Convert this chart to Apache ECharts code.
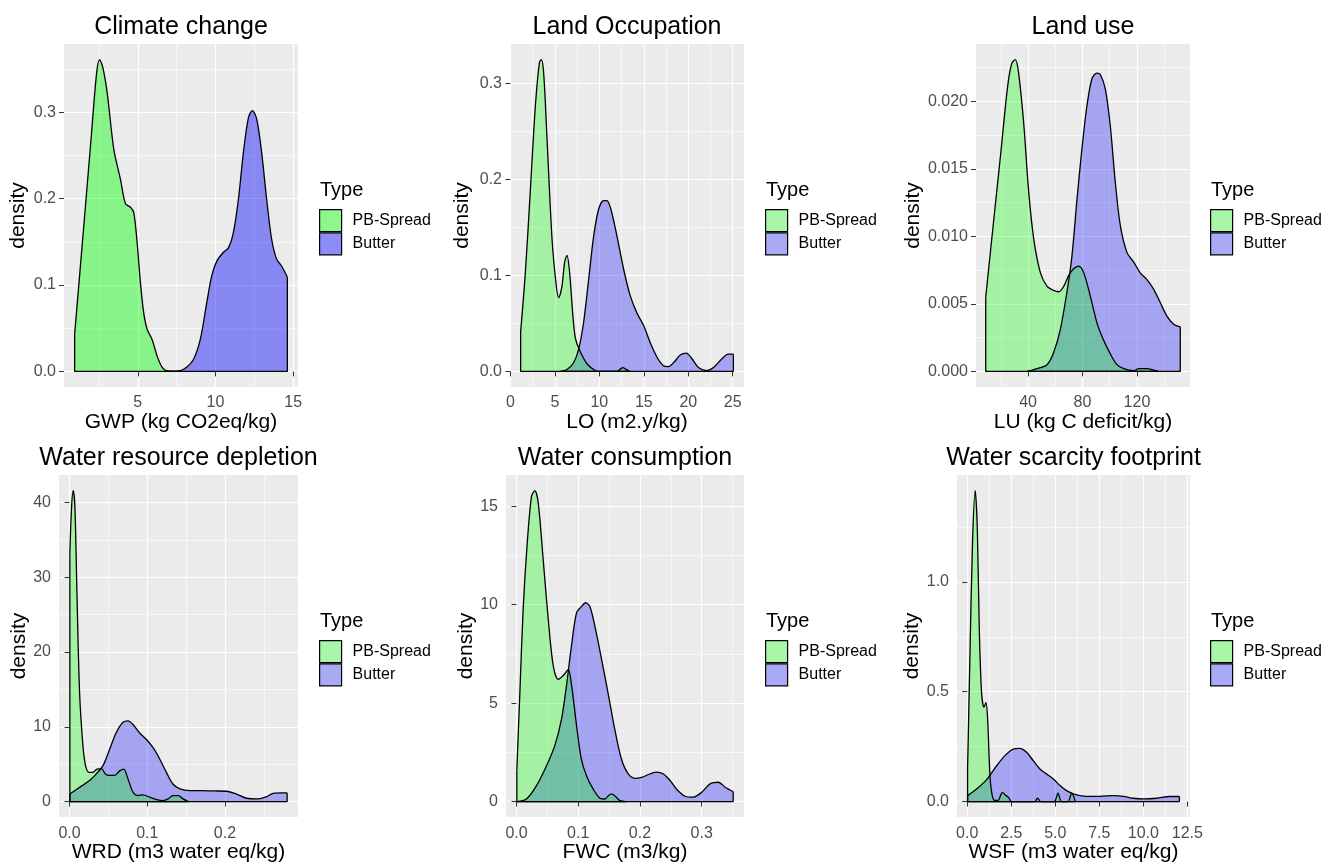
<!DOCTYPE html>
<html><head><meta charset="utf-8">
<script src="https://cdn.jsdelivr.net/npm/echarts@6/dist/echarts.min.js"></script>
<style>html,body{margin:0;padding:0;background:#fff}#c{width:1329px;height:864px}</style>
</head><body><div id="c"></div>
<script>
// ---------------- DATA ----------------
const seriesNames = ['PB-Spread', 'Butter'];
const panelTitles = ['Climate change', 'Land Occupation', 'Land use', 'Water resource depletion', 'Water consumption', 'Water scarcity footprint'];
const xTitles = ['GWP (kg CO2eq/kg)', 'LO (m2.y/kg)', 'LU (kg C deficit/kg)', 'WRD (m3 water eq/kg)', 'FWC (m3/kg)', 'WSF (m3 water eq/kg)'];
const yTitle = 'density';
const legendTitle = 'Type';

// density curves [x, density]
const gwpPB = [[0.94,0.043],[1.54,0.171],[2.0,0.27],[2.35,0.345],[2.54,0.361],[2.75,0.352],[3.03,0.323],[3.46,0.257],[3.89,0.222],[4.21,0.194],[4.53,0.19],[4.74,0.184],[4.96,0.149],[5.17,0.103],[5.38,0.068],[5.6,0.049],[5.92,0.037],[6.24,0.018],[6.56,0.005],[6.88,0.0005],[7.5,0]];
const gwpButter = [[6.88,0],[7.74,0.001],[8.16,0.005],[8.59,0.014],[9.02,0.037],[9.44,0.08],[9.76,0.111],[10.09,0.128],[10.51,0.138],[10.83,0.143],[11.15,0.161],[11.47,0.199],[11.79,0.253],[12.12,0.294],[12.37,0.302],[12.65,0.292],[12.97,0.253],[13.29,0.199],[13.61,0.153],[13.93,0.13],[14.25,0.122],[14.62,0.109]];

const loPB = [[1.15,0.041],[1.68,0.103],[2.25,0.19],[2.81,0.277],[3.26,0.322],[3.48,0.325],[3.74,0.311],[4.12,0.242],[4.68,0.138],[5.16,0.089],[5.43,0.077],[5.8,0.089],[6.1,0.114],[6.36,0.121],[6.66,0.103],[7.0,0.061],[7.3,0.035],[7.78,0.022],[8.61,0.008],[9.54,0.001],[10.1,0],[11.98,0],[12.35,0.0024],[12.65,0.004],[12.95,0.0024],[13.4,0]];
const loButter = [[5.6,0],[6.36,0.002],[7.1,0.009],[7.67,0.023],[8.23,0.051],[8.8,0.096],[9.36,0.141],[9.92,0.169],[10.48,0.178],[10.85,0.178],[11.3,0.169],[11.98,0.141],[12.72,0.107],[13.47,0.079],[14.22,0.061],[14.97,0.048],[15.72,0.03],[16.47,0.015],[17.2,0.006],[17.78,0.005],[18.34,0.009],[19.1,0.017],[19.76,0.019],[20.4,0.0135],[21.15,0.004],[22.08,0.0007],[22.83,0.004],[23.76,0.013],[24.5,0.018],[25.07,0.018]];

const luPB = [[8.93,0.0055],[15,0.0114],[20,0.0162],[25,0.0211],[28,0.0228],[30.7,0.0231],[33.1,0.0221],[36.8,0.0184],[40.5,0.0133],[44.2,0.0098],[49.1,0.0073],[54.0,0.0063],[58.8,0.006],[62.5,0.0059],[66.2,0.0063],[69.8,0.0071],[73.5,0.0076],[77.2,0.0078],[80.9,0.0073],[85.7,0.0056],[90.6,0.0036],[95.5,0.0023],[100.4,0.0013],[105.3,0.0005],[110.2,0.0002],[117.6,0.00005],[121.2,0.0002],[127.3,0.0002],[132.2,0.0001],[135.9,0]];
const luButter = [[39.3,0],[46.6,0.0002],[54,0.0005],[58.8,0.0014],[63.7,0.0031],[68.6,0.0059],[72.3,0.0086],[76.0,0.0128],[79.6,0.0165],[83.3,0.0197],[87.0,0.0217],[90.6,0.0221],[93.1,0.022],[96.8,0.0209],[100.4,0.0182],[104.1,0.014],[107.8,0.0108],[112.7,0.0088],[117.6,0.0081],[122.4,0.0073],[127.3,0.0068],[132.2,0.0061],[137.1,0.0051],[142.0,0.0041],[146.9,0.0035],[151.8,0.0033]];

const wrdPB = [[0.0004,33.2],[0.0026,39.4],[0.0047,41.6],[0.0069,39.4],[0.0095,27.9],[0.0129,14.6],[0.0172,7.5],[0.0206,4.8],[0.025,3.9],[0.03,3.9],[0.0353,4.35],[0.041,4.4],[0.046,3.7],[0.0516,3.5],[0.058,3.5],[0.0645,4.1],[0.0697,4.35],[0.0753,3.0],[0.0817,1.24],[0.088,0.8],[0.0946,0.9],[0.103,0.58],[0.112,0.27],[0.12,0.13],[0.127,0.36],[0.133,0.8],[0.14,0.8],[0.146,0.36],[0.153,0]];
const wrdButter = [[0.0004,1.0],[0.0129,1.9],[0.0258,2.8],[0.0344,3.7],[0.043,4.8],[0.0516,7.0],[0.06,9.2],[0.0688,10.6],[0.0753,10.8],[0.0817,10.3],[0.09,9.2],[0.099,8.3],[0.1075,7.2],[0.116,5.7],[0.1247,3.9],[0.133,2.35],[0.142,1.7],[0.155,1.47],[0.168,1.47],[0.185,1.42],[0.202,1.38],[0.215,1.0],[0.228,0.44],[0.241,0.36],[0.254,0.67],[0.262,1.1],[0.273,1.15],[0.28,1.15]];

const fwcPB = [[0.0005,1.57],[0.0054,5.5],[0.0108,9.8],[0.0173,13.1],[0.0243,15.5],[0.0297,15.8],[0.0351,15.2],[0.0432,12.3],[0.0514,9.26],[0.0595,6.9],[0.0676,6.2],[0.0757,6.4],[0.0838,6.7],[0.0892,5.9],[0.0973,3.85],[0.105,2.16],[0.1135,1.3],[0.124,0.64],[0.135,0.17],[0.143,0.13],[0.149,0.3],[0.154,0.39],[0.159,0.3],[0.1676,0.05],[0.178,0]];
const fwcButter = [[0.0005,0],[0.016,0.13],[0.0324,0.81],[0.0486,1.82],[0.062,2.84],[0.073,4.2],[0.081,5.9],[0.089,7.9],[0.0973,9.6],[0.105,9.9],[0.112,10.1],[0.119,9.9],[0.127,8.9],[0.138,7.2],[0.149,5.4],[0.159,3.7],[0.17,2.16],[0.181,1.4],[0.192,1.18],[0.2027,1.23],[0.216,1.4],[0.227,1.49],[0.238,1.4],[0.249,1.06],[0.259,0.64],[0.273,0.27],[0.286,0.22],[0.3,0.47],[0.3135,0.9],[0.327,0.98],[0.338,0.73],[0.351,0.5]];

const wsfPB = [[0.02,0.148],[0.15,0.65],[0.3,1.18],[0.45,1.416],[0.57,1.25],[0.68,0.8],[0.81,0.5],[0.95,0.43],[1.06,0.45],[1.16,0.375],[1.29,0.118],[1.42,0.027],[1.57,0.005],[1.76,0.005],[1.89,0.027],[2.0,0.042],[2.16,0.03],[2.33,0.02],[2.52,0],[3.82,0],[4.0,0.015],[4.18,0],[4.94,0],[5.15,0.038],[5.36,0],[5.72,0],[5.93,0.038],[6.14,0]];
const wsfButter = [[0.02,0.027],[0.53,0.057],[1.1,0.1],[1.67,0.163],[2.14,0.209],[2.61,0.239],[2.99,0.242],[3.37,0.224],[3.75,0.186],[4.13,0.148],[4.5,0.126],[4.89,0.103],[5.27,0.073],[5.64,0.05],[6.21,0.03],[6.78,0.024],[7.54,0.024],[8.3,0.027],[8.86,0.024],[9.43,0.015],[10.0,0.012],[10.76,0.015],[11.5,0.023],[12.05,0.023]];

// tick breaks and labels
const gwpXTicks = [5,10,15], gwpXLabels = ['5','10','15'], gwpXMinor = [2.5,7.5,12.5];
const gwpYTicks = [0,0.1,0.2,0.3], gwpYLabels = ['0.0','0.1','0.2','0.3'], gwpYMinor = [0.05,0.15,0.25,0.35];
const loXTicks = [0,5,10,15,20,25], loXLabels = ['0','5','10','15','20','25'], loXMinor = [2.5,7.5,12.5,17.5,22.5];
const loYTicks = [0,0.1,0.2,0.3], loYLabels = ['0.0','0.1','0.2','0.3'], loYMinor = [0.05,0.15,0.25];
const luXTicks = [40,80,120], luXLabels = ['40','80','120'], luXMinor = [20,60,100,140];
const luYTicks = [0,0.005,0.01,0.015,0.02], luYLabels = ['0.000','0.005','0.010','0.015','0.020'], luYMinor = [0.0025,0.0075,0.0125,0.0175,0.0225];
const wrdXTicks = [0,0.1,0.2], wrdXLabels = ['0.0','0.1','0.2'], wrdXMinor = [0.05,0.15,0.25];
const wrdYTicks = [0,10,20,30,40], wrdYLabels = ['0','10','20','30','40'], wrdYMinor = [5,15,25,35];
const fwcXTicks = [0,0.1,0.2,0.3], fwcXLabels = ['0.0','0.1','0.2','0.3'], fwcXMinor = [0.05,0.15,0.25,0.35];
const fwcYTicks = [0,5,10,15], fwcYLabels = ['0','5','10','15'], fwcYMinor = [2.5,7.5,12.5];
const wsfXTicks = [0,2.5,5,7.5,10,12.5], wsfXLabels = ['0.0','2.5','5.0','7.5','10.0','12.5'], wsfXMinor = [1.25,3.75,6.25,8.75,11.25];
const wsfYTicks = [0,0.5,1.0], wsfYLabels = ['0.0','0.5','1.0'], wsfYMinor = [0.25,0.75,1.25];

// ---------------- LAYOUT / STYLE ----------------
const FONT = 'Liberation Sans, Arial, Helvetica, sans-serif';
const panels = [
  {pb: gwpPB, bu: gwpButter, xt: gwpXTicks, xl: gwpXLabels, xm: gwpXMinor, yt: gwpYTicks, yl: gwpYLabels, ym: gwpYMinor,
   left: 64, top: 44, width: 234, height: 343, legLeft: 319, yGap: 35, alpha: 0.42},
  {pb: loPB, bu: loButter, xt: loXTicks, xl: loXLabels, xm: loXMinor, yt: loYTicks, yl: loYLabels, ym: loYMinor,
   left: 510, top: 44, width: 234, height: 343, legLeft: 765, yGap: 37, alpha: 0.3},
  {pb: luPB, bu: luButter, xt: luXTicks, xl: luXLabels, xm: luXMinor, yt: luYTicks, yl: luYLabels, ym: luYMinor,
   left: 976, top: 44, width: 214, height: 343, legLeft: 1210, yGap: 50, alpha: 0.3},
  {pb: wrdPB, bu: wrdButter, xt: wrdXTicks, xl: wrdXLabels, xm: wrdXMinor, yt: wrdYTicks, yl: wrdYLabels, ym: wrdYMinor,
   left: 59, top: 475, width: 239, height: 343, legLeft: 319, yGap: 27, alpha: 0.3},
  {pb: fwcPB, bu: fwcButter, xt: fwcXTicks, xl: fwcXLabels, xm: fwcXMinor, yt: fwcYTicks, yl: fwcYLabels, ym: fwcYMinor,
   left: 506, top: 475, width: 238, height: 343, legLeft: 765, yGap: 28, alpha: 0.3},
  {pb: wsfPB, bu: wsfButter, xt: wsfXTicks, xl: wsfXLabels, xm: wsfXMinor, yt: wsfYTicks, yl: wsfYLabels, ym: wsfYMinor,
   left: 957, top: 475, width: 233, height: 343, legLeft: 1210, yGap: 30, alpha: 0.3}
];

function rgba(rgb, a) { return 'rgba(' + rgb.join(',') + ',' + a + ')'; }
function blend(rgb, a, bg) { return 'rgb(' + rgb.map((c, i) => Math.round(bg[i] * (1 - a) + c * a)).join(',') + ')'; }
const GREEN = [0, 255, 0], BLUE = [0, 0, 255], KEYBG = [242, 242, 242];

function fmt(ticks, labels) {
  return function (v) {
    const i = ticks.findIndex(t => Math.abs(t - v) < 1e-9 * Math.max(1, Math.abs(t)));
    return i >= 0 ? labels[i] : '';
  };
}

const grid = [], xAxis = [], yAxis = [], series = [], legend = [], title = [];

panels.forEach((p, i) => {
  const allX = p.pb.concat(p.bu).map(d => d[0]);
  const allY = p.pb.concat(p.bu).map(d => d[1]);
  const xmin = Math.min(...allX), xmax = Math.max(...allX);
  const ymax = Math.max(...allY);
  const xr = xmax - xmin;
  const xLo = xmin - 0.05 * xr, xHi = xmax + 0.05 * xr;
  const yLo = -0.05 * ymax, yHi = ymax * 1.05;

  grid.push({left: p.left, top: p.top, width: p.width, height: p.height, show: true,
    backgroundColor: '#EBEBEB', borderWidth: 0, containLabel: false});

  const tickStyle = {show: true, length: 5, lineStyle: {color: '#333333', width: 1}};
  const labStyle = {color: '#4D4D4D', fontSize: 16, fontFamily: FONT};
  const bottomRow = i >= 3;

  // major x
  xAxis.push({type: 'value', gridIndex: i, min: xLo, max: xHi, position: 'bottom',
    axisLine: {show: false},
    axisTick: Object.assign({customValues: p.xt}, tickStyle),
    axisLabel: Object.assign({customValues: p.xt, formatter: fmt(p.xt, p.xl), margin: 8, hideOverlap: false}, labStyle),
    splitLine: {show: true, lineStyle: {color: '#FFFFFF', width: 1.2}},
    name: xTitles[i], nameLocation: 'middle', nameGap: bottomRow ? 22 : 23,
    nameTextStyle: {color: '#000', fontSize: 21, fontFamily: FONT}
  });
  // minor x
  xAxis.push({type: 'value', gridIndex: i, min: xLo, max: xHi, position: 'bottom',
    axisLine: {show: false}, axisTick: {show: false, customValues: p.xm},
    axisLabel: {show: false, customValues: p.xm},
    splitLine: {show: true, lineStyle: {color: '#FFFFFF', width: 0.6}}
  });
  // major y
  yAxis.push({type: 'value', gridIndex: i, min: yLo, max: yHi, position: 'left',
    axisLine: {show: false},
    axisTick: Object.assign({customValues: p.yt}, tickStyle),
    axisLabel: Object.assign({customValues: p.yt, formatter: fmt(p.yt, p.yl), margin: 8}, labStyle),
    splitLine: {show: true, lineStyle: {color: '#FFFFFF', width: 1.2}},
    name: yTitle, nameLocation: 'middle', nameGap: p.yGap, nameRotate: 90,
    nameTextStyle: {color: '#000', fontSize: 21, fontFamily: FONT}
  });
  // minor y
  yAxis.push({type: 'value', gridIndex: i, min: yLo, max: yHi, position: 'left',
    axisLine: {show: false}, axisTick: {show: false, customValues: p.ym},
    axisLabel: {show: false, customValues: p.ym},
    splitLine: {show: true, lineStyle: {color: '#FFFFFF', width: 0.6}}
  });

  const xi = 2 * i, yi = 2 * i;
  // Butter drawn first, PB-Spread on top
  [[p.bu, 'Butter', BLUE], [p.pb, 'PB-Spread', GREEN]].forEach(([d, name, col]) => {
    series.push({type: 'line', name: name, xAxisIndex: xi, yAxisIndex: yi, data: d,
      smooth: 0.3, showSymbol: false, symbol: 'none', silent: true,
      lineStyle: {color: '#000', width: 1.3},
      itemStyle: {color: rgba(col, p.alpha)},
      areaStyle: {color: rgba(col, p.alpha), opacity: 1, origin: 0}
    });
    const first = d[0], last = d[d.length - 1];
    series.push({type: 'line', name: name + ' outline', xAxisIndex: xi, yAxisIndex: yi,
      data: [[last[0], last[1]], [last[0], 0], [first[0], 0], [first[0], first[1]]],
      smooth: false, showSymbol: false, symbol: 'none', silent: true,
      lineStyle: {color: '#000', width: 1.3}
    });
  });

  const rowOff = bottomRow ? 431 : 0;
  legend.push({orient: 'vertical', left: p.legLeft, top: 209 + rowOff, itemWidth: 22, itemHeight: 22, itemGap: 0,
    padding: 0, icon: 'rect', selectedMode: false,
    textStyle: {fontSize: 16, color: '#000', fontFamily: FONT, padding: [0, 0, 0, 6]},
    data: [
      {name: 'PB-Spread', itemStyle: {color: blend(GREEN, p.alpha, KEYBG), borderColor: '#000', borderWidth: 1.2}},
      {name: 'Butter', itemStyle: {color: blend(BLUE, p.alpha, KEYBG), borderColor: '#000', borderWidth: 1.2}}
    ]
  });

  title.push({text: panelTitles[i], left: p.left + p.width / 2, top: bottomRow ? 446 : 15, textAlign: 'center', padding: 0,
    textStyle: {fontSize: 25, fontWeight: 'normal', color: '#000', fontFamily: FONT}});
  title.push({text: legendTitle, left: p.legLeft + 1, top: 180 + rowOff, textAlign: 'left', padding: 0,
    textStyle: {fontSize: 20, fontWeight: 'normal', color: '#000', fontFamily: FONT}});
});

const chart = echarts.init(document.getElementById('c'), null, {renderer: 'canvas'});
chart.setOption({animation: false, backgroundColor: '#FFFFFF', title, grid, xAxis, yAxis, series, legend});
</script>
</body></html>
